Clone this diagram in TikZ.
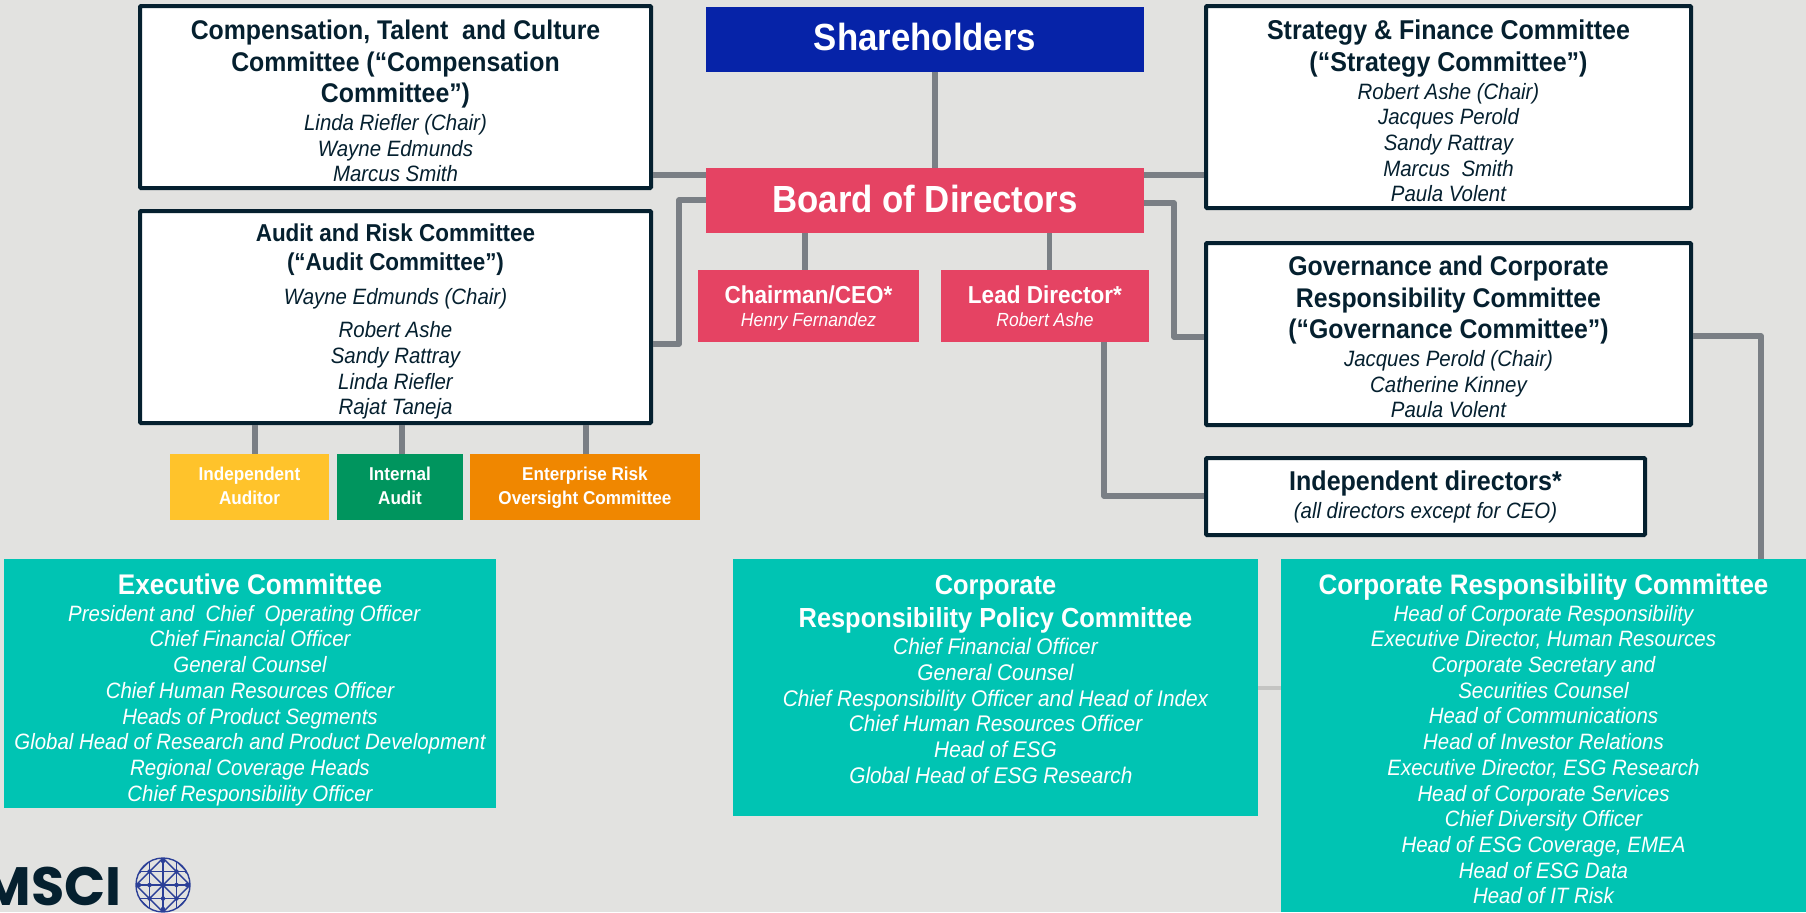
\documentclass[tikz,border=0pt]{standalone}
\usepackage{fontspec}
\setmainfont[FakeStretch=0.92]{Liberation Sans}
\newfontfamily\logofont{Poppins}
\usetikzlibrary{calc}
\definecolor{bgc}{HTML}{E2E2E0}
\definecolor{navy}{HTML}{05202F}
\definecolor{blueb}{HTML}{0623A8}
\definecolor{redb}{HTML}{E54363}
\definecolor{teal2}{HTML}{00C4B3}
\definecolor{orangeb}{HTML}{F08700}
\definecolor{greenb}{HTML}{00955E}
\definecolor{yellowb}{HTML}{FFC32B}
\definecolor{conng}{HTML}{7A7F85}
\definecolor{connl}{HTML}{C4C4C2}
\definecolor{globe}{HTML}{2B3F97}
\newcommand\Tt[2]{\bfseries\fontsize{#1}{#2}\selectfont}
\newcommand\Bd{\itshape\fontsize{11.1}{12.85}\selectfont}
\newcommand\orgbox[8]{%
  \pgfmathsetmacro\bw{(#5-#3)*0.5}\pgfmathsetmacro\bh{(#6-#4)*0.5}%
  \node[#2,minimum width=\bw pt,minimum height=\bh pt] (#1) at ({(#3+#5)/2},{(#4+#6)/2})
    {\parbox[c][\bh pt][t]{\bw pt}{\centering\vspace*{#7pt}#8}};}
\tikzset{
  wbox/.style={draw=navy,line width=2pt,fill=white,text=navy,inner sep=0pt,rounded corners=0.5pt},
  cbox/.style={fill=#1,text=white,inner sep=0pt},
  conn/.style={draw=conng,line width=2.6pt,line join=round},
}
\begin{document}
\begin{tikzpicture}[x=0.5pt,y=-0.5pt]
\useasboundingbox (0,0) rectangle (1806,912);
\fill[bgc] (0,0) rectangle (1806,912);
\orgbox{share}{cbox=blueb}{706}{7}{1144}{72}{8}{{\Tt{18.9}{20}Shareholders\par}}
\orgbox{board}{cbox=redb}{706}{168}{1144}{233}{8.5}{{\Tt{18.9}{20}Board of Directors\par}}
\orgbox{chair}{cbox=redb}{698}{270}{919}{342}{7.7}{{\Tt{12.25}{13}Chairman/CEO*\par}{\itshape\fontsize{9.5}{11.5}\selectfont Henry Fernandez\par}}
\orgbox{lead}{cbox=redb}{941}{270}{1149}{342}{7.7}{{\Tt{12.25}{13}Lead Director*\par}{\itshape\fontsize{9.5}{11.5}\selectfont Robert Ashe\par}}
\orgbox{comp}{wbox}{140}{6}{651}{188}{7}{{\Tt{13.5}{15.8}Compensation, Talent~ and Culture\par Committee (“Compensation\par Committee”)\par}\vspace{1pt}{\Bd Linda Riefler (Chair)\par Wayne Edmunds\par Marcus Smith\par}}
\orgbox{audit}{wbox}{140}{211}{651}{423}{6.5}{{\Tt{12.2}{14.4}Audit and Risk Committee\par (“Audit Committee”)\par}\vspace{4pt}{\Bd Wayne Edmunds (Chair)\par}\vspace{4pt}{\Bd Robert Ashe\par Sandy Rattray\par Linda Riefler\par Rajat Taneja\par}}
\orgbox{strat}{wbox}{1206}{6}{1691}{208}{7}{{\Tt{13.6}{15.8}Strategy \& Finance Committee\par (“Strategy Committee”)\par}\vspace{1pt}{\Bd Robert Ashe (Chair)\par Jacques Perold\par Sandy Rattray\par Marcus~ Smith\par Paula Volent\par}}
\orgbox{gov}{wbox}{1206}{243}{1691}{425}{6.5}{{\Tt{13.5}{15.8}Governance and Corporate\par Responsibility Committee\par (“Governance Committee”)\par}\vspace{1pt}{\Bd Jacques Perold (Chair)\par Catherine Kinney\par Paula Volent\par}}
\orgbox{indep}{wbox}{1206}{458}{1645}{535}{6.5}{{\Tt{13.6}{15}Independent directors*\par}\vspace{1pt}{\Bd (all directors except for CEO)\par}}
\orgbox{auditor}{cbox=yellowb}{170}{454}{329}{520}{6.5}{{\Tt{9.3}{12}Independent\par Auditor\par}}
\orgbox{internal}{cbox=greenb}{337}{454}{463}{520}{6.5}{{\Tt{9.3}{12}Internal\par Audit\par}}
\orgbox{erisk}{cbox=orangeb}{470}{454}{700}{520}{6.5}{{\Tt{9.3}{12}Enterprise Risk\par Oversight Committee\par}}
\orgbox{exec}{cbox=teal2}{4}{559}{496}{808}{7.6}{{\Tt{14.2}{15}Executive Committee\par}\vspace{0.4pt}{\Bd President and~ Chief~ Operating Officer\hspace*{5.8pt}\par Chief Financial Officer\par General Counsel\par Chief Human Resources Officer\par Heads of Product Segments\par Global Head of Research and Product Development\par Regional Coverage Heads\par Chief Responsibility Officer\par}}
\orgbox{crpc}{cbox=teal2}{733}{559}{1258}{816}{8}{{\Tt{13.8}{16.7}Corporate\par Responsibility Policy Committee\par}\vspace{0.7pt}{\Bd\fontsize{11.3}{12.85}\selectfont Chief Financial Officer\par General Counsel\par Chief Responsibility Officer and Head of Index\par Chief Human Resources Officer\par Head of ESG\par Global Head of ESG Research\hspace*{4.6pt}\par}}
\orgbox{crc}{cbox=teal2}{1281}{559}{1830}{912}{7.6}{\hspace*{-12pt}\parbox{525\dimexpr0.5pt\relax}{\centering{\Tt{14.1}{15}Corporate Responsibility Committee\par}\vspace{0.4pt}{\Bd Head of Corporate Responsibility\par Executive Director, Human Resources\par Corporate Secretary and\par Securities Counsel\par Head of Communications\par Head of Investor Relations\par Executive Director, ESG Research\par Head of Corporate Services\par Chief Diversity Officer\par Head of ESG Coverage, EMEA\par Head of ESG Data\par Head of IT Risk\par}}}
% connector guide coordinates
\coordinate (a) at (935,175);
\coordinate (b) at (679,200);
\coordinate (c) at (1174,203);
\coordinate (d) at (805,344);
\coordinate (e) at (1049.5,337);
\coordinate (f) at (1104,496);
\coordinate (g) at (1761,336);
\coordinate (h) at (255,688);
\coordinate (i) at (402,0);
\coordinate (j) at (586,0);
\draw[conn] (share.south -| a) -- (board.north -| a);
\draw[conn] (comp.east |- a) -- (board.west |- a);
\draw[conn] (board.east |- a) -- (strat.west |- a);
\draw[conn] (board.west |- b) -- (b) -- (b |- d) -- (audit.east |- d);
\draw[conn] (board.east |- c) -- (c) -- (c |- e) -- (gov.west |- e);
\draw[conn] (board.south -| d) -- (chair.north -| d);
\draw[conn] (board.south -| e) -- (lead.north -| e);
\draw[conn] (lead.south -| f) -- (f) -- (indep.west |- f);
\draw[conn] (gov.east |- g) -- (g) -- (crc.north -| g);
\draw[conn] (audit.south -| h) -- (auditor.north -| h);
\draw[conn] (audit.south -| i) -- (internal.north -| i);
\draw[conn] (audit.south -| j) -- (erisk.north -| j);
\draw[connl,line width=2pt] (crpc.east |- h) -- (crc.west |- h);
% logo
\begin{scope}
\clip (0,0) rectangle (1806,912);
\node[anchor=base east,inner sep=0pt,text=navy,font=\logofont\bfseries\fontsize{27}{30}\selectfont] (msci) at (122,905) {MSCI};
\begin{scope}[shift={(163,885)},draw=globe,line width=0.7pt]
\draw (0,0) circle[radius=27];
\clip (0,0) circle[radius=27];
\foreach \q in {-13.5,0,13.5}{\draw (\q,-27) -- (\q,27); \draw (-27,\q) -- (27,\q);}
\draw (-27,0) -- (0,-27) -- (27,0) -- (0,27) -- cycle;
\draw (-13.5,-13.5) -- (13.5,13.5) (-13.5,13.5) -- (13.5,-13.5);
\draw (-13.5,-24) -- (-24,-13.5) (13.5,-24) -- (24,-13.5) (-13.5,24) -- (-24,13.5) (13.5,24) -- (24,13.5);
\foreach \p/\q in {0/0,-13.5/-13.5,13.5/-13.5,-13.5/13.5,13.5/13.5,-24/0,24/0,0/-24,0/24,13.5/0,-13.5/0,0/13.5,-20/-20,20/-20,-24/-13.5,24/-13.5,20/20}
  \fill[globe] (\p,\q) circle[radius=2.2];
\end{scope}
\end{scope}
\end{tikzpicture}
\end{document}
